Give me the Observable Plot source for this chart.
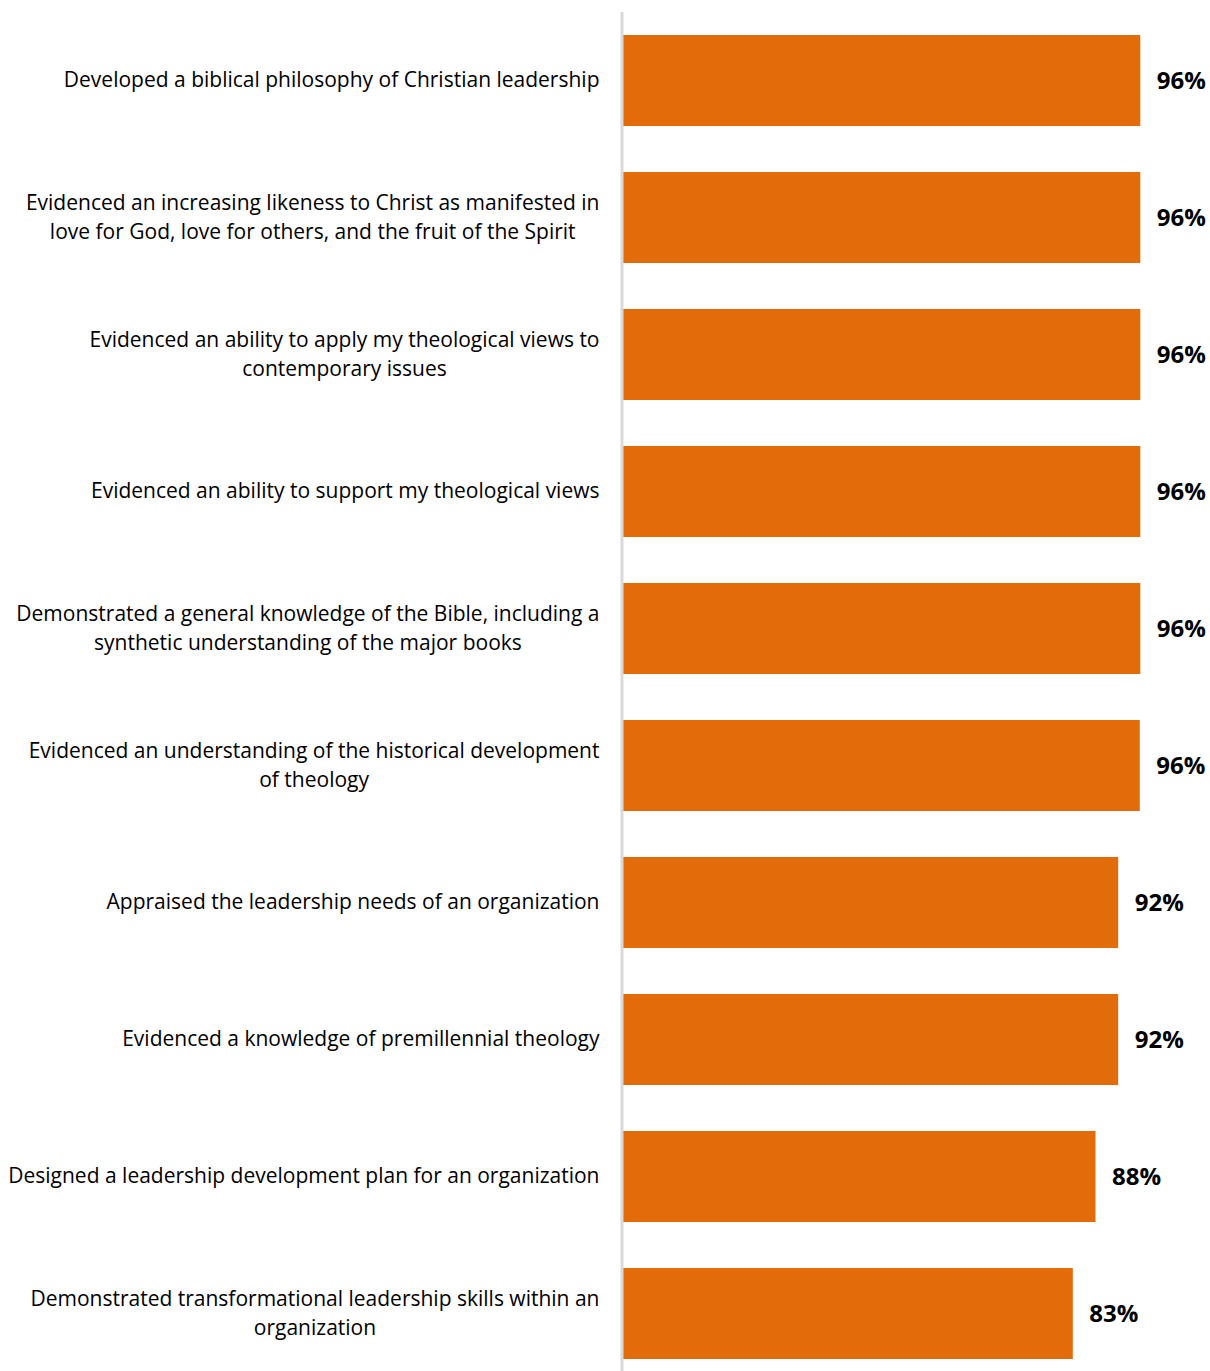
<!DOCTYPE html>
<html>
<head>
<meta charset="utf-8">
<script src="https://cdn.jsdelivr.net/npm/d3@7"></script>
<script src="https://cdn.jsdelivr.net/npm/@observablehq/plot@0.6"></script>
<style>
  html, body { margin: 0; padding: 0; background: #ffffff; }
  #chart svg { display: block; }
</style>
</head>
<body>
<div id="chart"></div>
<script>
const categories = [
  "Developed a biblical philosophy of Christian leadership",
  "Evidenced an increasing likeness to Christ as manifested in\nlove for God, love for others, and the fruit of the Spirit",
  "Evidenced an ability to apply my theological views to\ncontemporary issues",
  "Evidenced an ability to support my theological views",
  "Demonstrated a general knowledge of the Bible, including a\nsynthetic understanding of the major books",
  "Evidenced an understanding of the historical development\nof theology",
  "Appraised the leadership needs of an organization",
  "Evidenced a knowledge of premillennial theology",
  "Designed a leadership development plan for an organization",
  "Demonstrated transformational leadership skills within an\norganization"
];
const values = [95.8, 95.8, 95.8, 95.8, 95.8, 95.7, 91.7, 91.7, 87.5, 83.3];
const valueLabels = ["96%", "96%", "96%", "96%", "96%", "96%", "92%", "92%", "88%", "83%"];

const data = categories.map((c, i) => ({category: c, value: values[i], label: valueLabels[i]}));

const chart = Plot.plot({
  width: 1210,
  height: 1371,
  marginLeft: 623,
  marginRight: 47,
  marginTop: 35,
  marginBottom: 12,
  style: {fontFamily: "'Open Sans', Lato, sans-serif", background: "#ffffff"},
  x: {domain: [0, 100], axis: null},
  y: {domain: categories, axis: null, paddingInner: 0.336, paddingOuter: 0},
  marks: [
    Plot.barX(data, {x: "value", y: "category", fill: "#E36C0A"}),
    Plot.ruleX([0], {stroke: "#D9D9D9", strokeWidth: 3, dx: -1.5, insetTop: -23, insetBottom: -12}),
    Plot.text(data, {
      x: 0, y: "category", text: "category",
      textAnchor: "end", dx: -24, dy: -3, fontSize: 21, lineHeight: 1.38, fill: "#000000"
    }),
    Plot.text(data, {
      x: "value", y: "category", text: "label",
      textAnchor: "start", dx: 16, fontSize: 24, fontWeight: "bold", fill: "#000000"
    })
  ]
});
document.getElementById("chart").appendChild(chart);

// Center the lines of each multi-line label within its right-aligned block
const labelGroup = chart.querySelectorAll('g[aria-label="text"]')[0];
if (labelGroup) {
  labelGroup.querySelectorAll("text").forEach(t => {
    const spans = t.querySelectorAll("tspan");
    if (spans.length > 1) {
      const widths = Array.from(spans, s => s.getComputedTextLength());
      const w = Math.max(...widths);
      t.setAttribute("text-anchor", "middle");
      spans.forEach(s => s.setAttribute("x", -w / 2));
    }
  });
}
</script>
</body>
</html>
